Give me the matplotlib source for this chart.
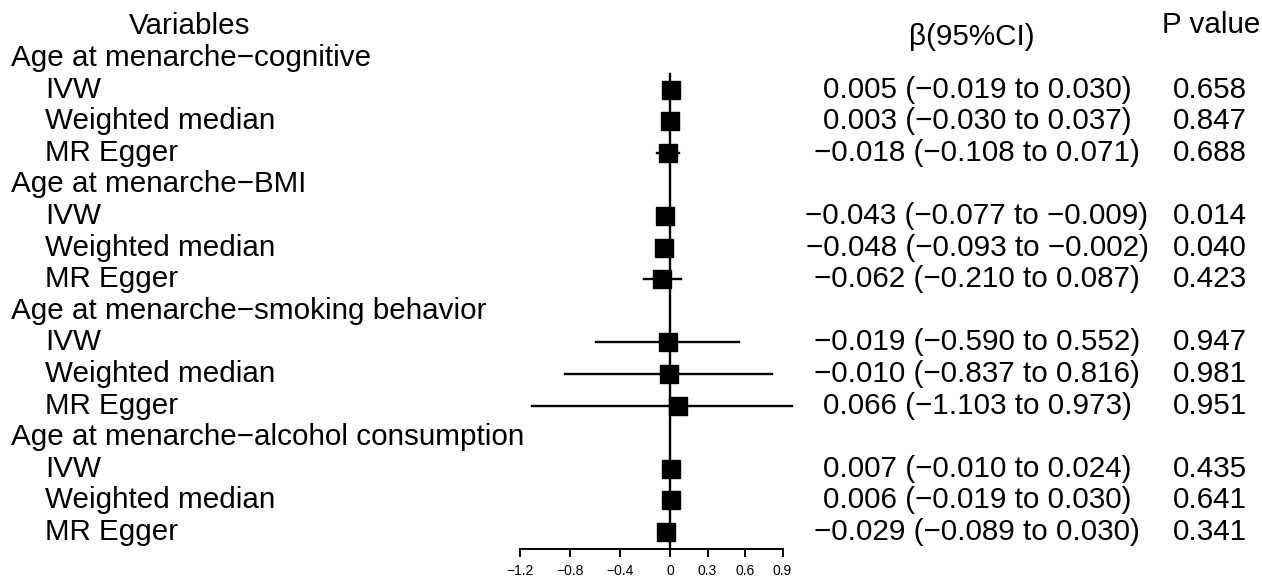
import matplotlib.pyplot as plt
import matplotlib.transforms as mtransforms

plt.rcParams['font.family'] = ['Liberation Sans', 'DejaVu Sans']

# data
groups = ["Age at menarche\u2212cognitive", "Age at menarche\u2212BMI",
          "Age at menarche\u2212smoking behavior", "Age at menarche\u2212alcohol consumption"]
methods = ["IVW", "Weighted median", "MR Egger"]
beta = [[0.005, 0.003, -0.018],
        [-0.043, -0.048, -0.062],
        [-0.019, -0.010, 0.066],
        [0.007, 0.006, -0.029]]
lower = [[-0.019, -0.030, -0.108],
         [-0.077, -0.093, -0.210],
         [-0.590, -0.837, -1.103],
         [-0.010, -0.019, -0.089]]
upper = [[0.030, 0.037, 0.071],
         [-0.009, -0.002, 0.087],
         [0.552, 0.816, 0.973],
         [0.024, 0.030, 0.030]]
pvals = [["0.658", "0.847", "0.688"],
         ["0.014", "0.040", "0.423"],
         ["0.947", "0.981", "0.951"],
         ["0.435", "0.641", "0.341"]]
xticks = [-1.2, -0.8, -0.4, 0, 0.3, 0.6, 0.9]


def fmt(v):
    return f"{v:.3f}".replace("-", "\u2212")


W, H = 1262, 579
fig = plt.figure(figsize=(W / 100, H / 100), dpi=100)
ax = fig.add_axes([0, 0, 1, 1])
ax.axis("off")
# x in effect units (0 at px 670, 125 px per unit), y in row units
ax.set_xlim(-670 / 125, (W - 670) / 125)
ax.set_ylim((H - 26.4) / 31.6, -26.4 / 31.6)

tr = mtransforms.blended_transform_factory(fig.transFigure, ax.transData)
fs = 21.3

ax.text(190 / W, 0, "Variables", transform=tr, ha="center", va="center", fontsize=fs)
ax.text(972 / W, 0.33, "\u03b2(95%CI)", transform=tr, ha="center", va="center", fontsize=fs)
ax.text(1211 / W, -0.05, "P value", transform=tr, ha="center", va="center", fontsize=fs)

row = 1
for g, name in enumerate(groups):
    ax.text(11 / W, row, name, transform=tr, ha="left", va="center", fontsize=fs)
    row += 1
    for m, meth in enumerate(methods):
        ax.text(45 / W, row, meth, transform=tr, ha="left", va="center", fontsize=fs)
        b, lo, hi = beta[g][m], lower[g][m], upper[g][m]
        ax.plot([lo, hi], [row, row], color="black", lw=1.7, zorder=2)
        ax.plot(b, row, marker="s", color="black", markersize=12.5, zorder=3)
        txt = f"{fmt(b)} ({fmt(lo)} to {fmt(hi)})"
        ax.text(977 / W, row, txt, transform=tr, ha="center", va="center", fontsize=fs)
        ax.text(1210 / W, row, pvals[g][m], transform=tr, ha="center", va="center", fontsize=fs)
        row += 1

axis_y = 16.54
ax.plot([0, 0], [1.5, axis_y], color="black", lw=1.7, zorder=1)
ax.plot([xticks[0], xticks[-1]], [axis_y, axis_y], color="black", lw=1.4)
for t in xticks:
    ax.plot([t, t], [axis_y, axis_y + 0.22], color="black", lw=1.4)
    lab = "0" if t == 0 else f"{t:g}".replace("-", "\u2212")
    ax.text(t, axis_y + 0.68, lab, ha="center", va="center", fontsize=10)

fig.savefig("out.png", dpi=100)
